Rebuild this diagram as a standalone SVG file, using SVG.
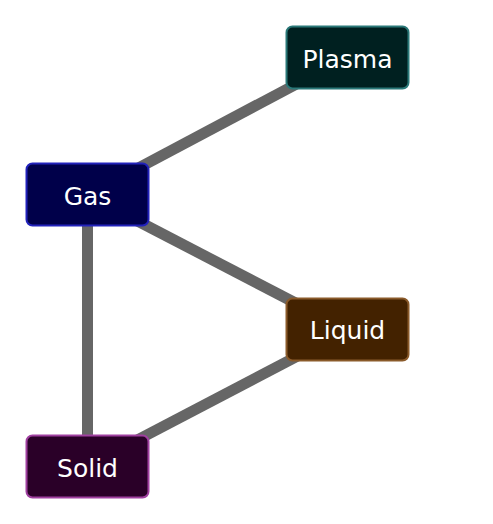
<svg xmlns="http://www.w3.org/2000/svg" width="493" height="524" viewBox="0 0 493 524">
<style>
.edge{stroke:#666666;stroke-width:11;fill:none}
.box{stroke-width:2}
.lbl{font-family:"DejaVu Sans",sans-serif;font-size:25px;fill:#ffffff;text-anchor:middle;dominant-baseline:central}
</style>
<rect width="493" height="524" fill="#ffffff"/>
<g id="edges">
<line class="edge" x1="87.5" y1="195" x2="347.5" y2="57"/>
<line class="edge" x1="87.5" y1="195" x2="347.5" y2="330"/>
<line class="edge" x1="87.5" y1="195" x2="87.5" y2="466"/>
<line class="edge" x1="347.5" y1="330" x2="87.5" y2="466"/>
</g>
<g id="plasma">
<rect class="box" x="286.5" y="26.5" width="122" height="62" rx="6" fill="#002020" stroke="#2a7878"/>
<text class="lbl" x="347.5" y="59">Plasma</text>
</g>
<g id="gas">
<rect class="box" x="26.5" y="163.5" width="122" height="62" rx="6" fill="#00004a" stroke="#2222bb"/>
<text class="lbl" x="87.5" y="196">Gas</text>
</g>
<g id="liquid">
<rect class="box" x="286.5" y="298.5" width="122" height="62" rx="6" fill="#432200" stroke="#8a5a2a"/>
<text class="lbl" x="347.5" y="330">Liquid</text>
</g>
<g id="solid">
<rect class="box" x="26.5" y="435.5" width="122" height="62" rx="6" fill="#2a0028" stroke="#a040a0"/>
<text class="lbl" x="87.5" y="468">Solid</text>
</g>
</svg>
